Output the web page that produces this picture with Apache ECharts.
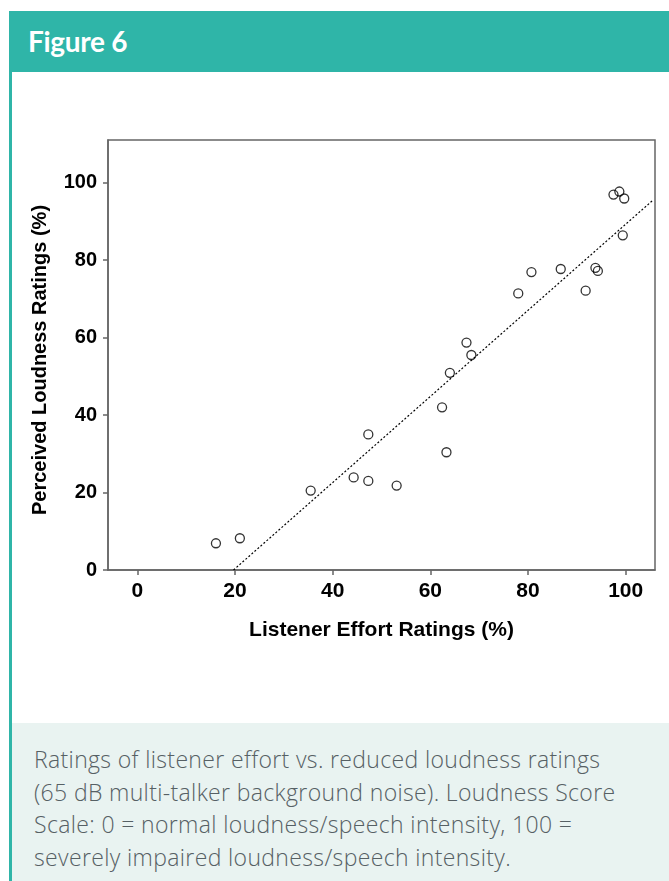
<!DOCTYPE html>
<html>
<head>
<meta charset="utf-8">
<script src="https://cdn.jsdelivr.net/npm/echarts@6/dist/echarts.min.js"></script>
<style>
  html, body { margin: 0; padding: 0; background: #fff; }
  #page { position: relative; width: 669px; height: 881px; overflow: hidden; }
  #header {
    position: absolute; left: 9px; top: 11px; width: 660px; height: 61px;
    background: #2fb5a8; color: #fff;
    font-family: Lato, "Open Sans", sans-serif; font-weight: bold; font-size: 28px;
    line-height: 61px; padding-left: 19px; box-sizing: border-box; letter-spacing: -0.3px;
  }
  #leftbar { position: absolute; left: 9px; top: 72px; width: 3px; height: 809px; background: #2fb5a8; }
  #caption {
    position: absolute; left: 12px; top: 723px; width: 657px; height: 158px;
    background: #e9f3f1; color: #566064;
    font-family: "Open Sans", Lato, sans-serif; font-weight: 300; font-size: 23px; line-height: 32.7px;
    padding: 20px 0 0 22px; box-sizing: border-box; white-space: nowrap; letter-spacing: 0.35px;
  }
  #graph { position: absolute; left: 0; top: 0; width: 669px; height: 881px; }
</style>
</head>
<body>
<div id="page">
  <div id="header">Figure 6</div>
  <div id="leftbar"></div>
  <div id="caption">Ratings of listener effort vs. reduced loudness ratings<br>(65 dB multi-talker background noise). Loudness Score<br>Scale: 0 = normal loudness/speech intensity, 100 =<br>severely impaired loudness/speech intensity.</div>
  <div id="graph"></div>
</div>
<script>
// listener effort (%) vs perceived loudness (%)
var effort = [16.1, 21.0, 35.5, 44.3, 47.3, 47.3, 53.1, 62.4, 63.3, 64.0, 67.4,
              68.4, 78.0, 80.7, 86.7, 91.8, 93.8, 94.3, 97.5, 98.7, 99.7, 99.4];
var loudness = [6.9, 8.2, 20.5, 23.9, 23.0, 35.0, 21.8, 42.0, 30.4, 50.9, 58.7,
                55.5, 71.4, 76.9, 77.7, 72.1, 78.0, 77.2, 96.9, 97.7, 95.9, 86.4];
// fit line end points
var fitX = [19.7, 105.7];
var fitY = [0, 95.6];
var tickValues = [0, 20, 40, 60, 80, 100];

var chart = echarts.init(document.getElementById('graph'));

var points = effort.map((x, i) => [x, loudness[i]]);
var fitLine = fitX.map((x, i) => [x, fitY[i]]);

var axisFont = {
  fontFamily: '"Liberation Sans", Arial, sans-serif',
  fontWeight: 'bold',
  fontSize: 20,
  color: '#000'
};

var option = {
  animation: false,
  backgroundColor: 'transparent',
  grid: {
    left: 108, top: 140, right: 14, bottom: 311,
    show: true, borderColor: '#666', borderWidth: 1.5
  },
  xAxis: {
    type: 'value',
    min: -6, max: 106,
    name: 'Listener Effort Ratings (%)',
    nameLocation: 'middle',
    nameGap: 50,
    nameTextStyle: Object.assign({}, axisFont, { fontSize: 21 }),
    splitLine: { show: false },
    axisLine: { show: true, onZero: false, lineStyle: { color: '#666', width: 1.5 } },
    axisTick: { show: true, length: 5, customValues: tickValues, lineStyle: { color: '#666', width: 1.5 } },
    axisLabel: Object.assign({ margin: 11, customValues: tickValues }, axisFont, { fontSize: 21 })
  },
  yAxis: {
    type: 'value',
    min: 0, max: 111,
    name: 'Perceived Loudness Ratings (%)',
    nameLocation: 'middle',
    nameGap: 58,
    nameTextStyle: Object.assign({}, axisFont, { padding: [0, 0, 0, -10] }),
    splitLine: { show: false },
    axisLine: { show: true, onZero: false, lineStyle: { color: '#666', width: 1.5 } },
    axisTick: { show: true, length: 5, customValues: tickValues, lineStyle: { color: '#666', width: 1.5 } },
    axisLabel: Object.assign({ margin: 11, customValues: tickValues }, axisFont)
  },
  series: [
    {
      type: 'line',
      data: fitLine,
      symbol: 'none',
      clip: true,
      lineStyle: { color: '#000', width: 1.2, type: [2, 2] },
      z: 1
    },
    {
      type: 'scatter',
      data: points,
      symbol: 'circle',
      symbolSize: 9,
      itemStyle: { color: 'rgba(255,255,255,0)', borderColor: '#000', borderWidth: 1.3 },
      z: 2
    }
  ]
};

chart.setOption(option);
</script>
</body>
</html>
